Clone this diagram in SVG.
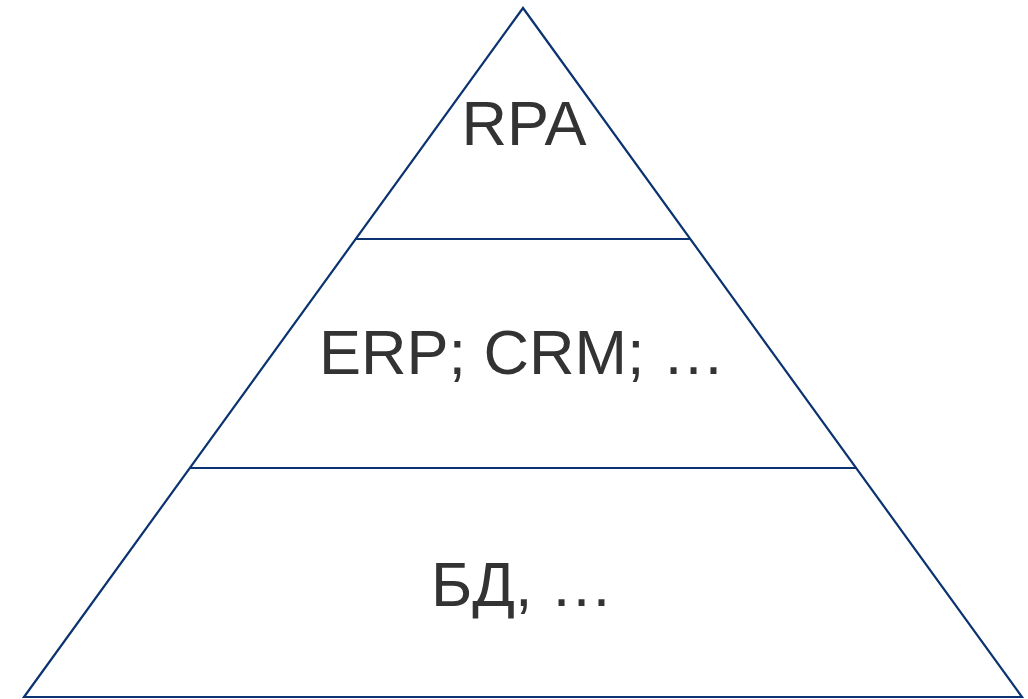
<svg xmlns="http://www.w3.org/2000/svg" width="1028" height="699" viewBox="0 0 1028 699">
<style>
.edge{fill:none;stroke:#0b3370;stroke-width:2.2;stroke-linejoin:miter}
.lbl{font-family:"Liberation Sans",Arial,sans-serif;font-size:63px;fill:#333333;text-anchor:middle}
</style>
<rect width="1028" height="699" fill="#ffffff"/>
<g id="connectors">
<path class="edge" d="M24,697 L523,8 L1022,697 Z"/>
<line class="edge" x1="356" y1="239" x2="690" y2="239"/>
<line class="edge" x1="190" y1="468" x2="856" y2="468"/>
</g>
<g id="node-rpa"><text class="lbl" x="524" y="145">RPA</text></g>
<g id="node-erp"><text class="lbl" x="522" y="374">ERP; CRM; …</text></g>
<g id="node-db"><text class="lbl" x="522" y="606">БД, …</text></g>
</svg>
